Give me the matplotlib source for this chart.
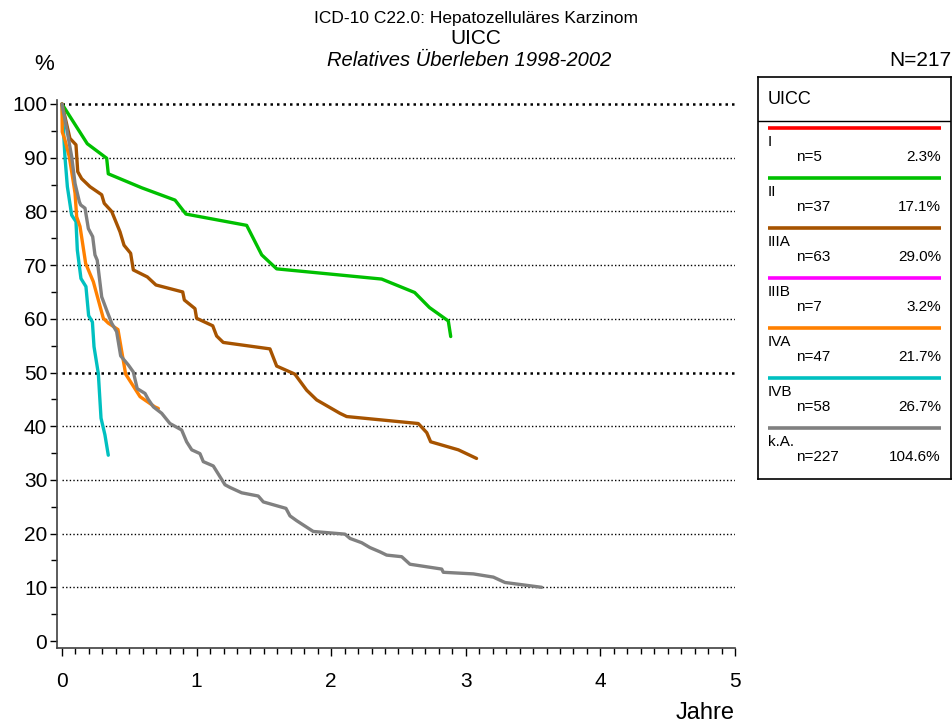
import matplotlib
matplotlib.use('Agg')
from matplotlib import pyplot as plt
from matplotlib.ticker import MultipleLocator

plt.rcParams['font.family'] = ['Liberation Sans', 'DejaVu Sans']

# curves (years, relative survival %)
ii_x = [0, 0.188, 0.332, 0.344, 0.592, 0.84, 0.921, 1.372, 1.484, 1.595, 2.375, 2.62, 2.73, 2.87, 2.888]
ii_y = [100, 92.6, 89.9, 87.0, 84.4, 82.1, 79.5, 77.4, 71.9, 69.3, 67.4, 64.9, 62.1, 59.6, 56.7]

iiia_x = [0, 0.059, 0.104, 0.117, 0.146, 0.208, 0.295, 0.314, 0.369, 0.431, 0.461, 0.51, 0.53,
          0.634, 0.698, 0.897, 0.909, 0.988, 1.0, 1.12, 1.149, 1.198, 1.545, 1.595, 1.73, 1.818,
          1.892, 2.065, 2.115, 2.647, 2.71, 2.739, 2.945, 3.08]
iiia_y = [100, 93.6, 92.4, 87.4, 86.1, 84.6, 83.1, 81.5, 80.0, 76.2, 73.7, 72.2, 69.1,
          67.8, 66.3, 65.0, 63.5, 61.9, 60.1, 58.7, 56.8, 55.6, 54.4, 51.2, 49.7, 46.7,
          44.9, 42.4, 41.8, 40.5, 38.8, 37.1, 35.6, 34.0]

iva_x = [0, 0.002, 0.022, 0.054, 0.084, 0.097, 0.109, 0.134, 0.176, 0.233, 0.307, 0.344, 0.416,
         0.473, 0.58, 0.69, 0.716]
iva_y = [100, 94.8, 93.3, 90.2, 85.5, 83.4, 79.0, 77.2, 70.3, 66.9, 60.1, 59.2, 58.0,
         49.7, 45.5, 43.6, 43.3]

ivb_x = [0, 0.022, 0.04, 0.072, 0.104, 0.114, 0.141, 0.178, 0.198, 0.226, 0.238, 0.27, 0.29,
         0.319, 0.344]
ivb_y = [100, 90.2, 84.6, 79.3, 78.1, 72.8, 67.5, 66.0, 60.6, 59.4, 54.8, 49.8, 41.5,
         38.4, 34.6]

ka_x = [0, 0.035, 0.072, 0.097, 0.129, 0.139, 0.171, 0.196, 0.228, 0.245, 0.262, 0.295, 0.332,
        0.369, 0.406, 0.436, 0.493, 0.53, 0.559, 0.617, 0.641, 0.679, 0.741, 0.802, 0.889,
        0.926, 0.964, 1.025, 1.05, 1.124, 1.211, 1.248, 1.335, 1.458, 1.496, 1.664, 1.694,
        1.744, 1.793, 1.867, 2.103, 2.14, 2.227, 2.288, 2.363, 2.412, 2.524, 2.585, 2.821,
        2.833, 3.056, 3.205, 3.291, 3.564]
ka_y = [100, 95.4, 90.2, 85.2, 81.8, 81.2, 80.6, 76.8, 75.3, 71.9, 70.9, 64.1, 61.6,
        59.2, 57.6, 53.1, 51.4, 50.1, 47.0, 46.1, 45.0, 43.6, 42.4, 40.5, 39.3,
        37.1, 35.6, 34.9, 33.4, 32.6, 29.1, 28.6, 27.6, 27.0, 25.9, 24.7, 23.3,
        22.4, 21.6, 20.4, 19.9, 19.1, 18.3, 17.4, 16.6, 16.0, 15.7, 14.3, 13.4,
        12.8, 12.5, 11.9, 10.9, 10.0]

groups = ['I', 'II', 'IIIA', 'IIIB', 'IVA', 'IVB', 'k.A.']
counts = [5, 37, 63, 7, 47, 58, 227]
shares = ['2.3%', '17.1%', '29.0%', '3.2%', '21.7%', '26.7%', '104.6%']
colors = ['#ff0000', '#00c000', '#a65300', '#ff00ff', '#ff8000', '#00c0c0', '#808080']

curves = [(ivb_x, ivb_y, colors[5]), (ii_x, ii_y, colors[1]), (iiia_x, iiia_y, colors[2]),
          (iva_x, iva_y, colors[4]), (ka_x, ka_y, colors[6])]

fig = plt.figure(figsize=(9.53, 7.28), dpi=100)
ax = fig.add_axes([57 / 953, 80 / 728, 678 / 953, 548.3 / 728])

for v in range(10, 101, 10):
    lw = 1.8 if v in (50, 100) else 1.0
    ax.plot([0, 5], [v, v], color='black', lw=lw, ls=(0, (1, 1.6)), zorder=1)

for x, y, c in curves:
    ax.plot(x, y, color=c, lw=2.4, solid_joinstyle='round', solid_capstyle='round', zorder=3)

ax.set_xlim(-0.037, 5.0)
ax.set_ylim(-1.3, 100.8)
ax.spines['top'].set_visible(False)
ax.spines['right'].set_visible(False)
ax.spines['left'].set_color('#404040')
ax.spines['bottom'].set_color('#404040')
ax.spines['left'].set_linewidth(1.2)
ax.spines['bottom'].set_linewidth(1.2)
ax.xaxis.set_major_locator(MultipleLocator(1))
ax.xaxis.set_minor_locator(MultipleLocator(0.1))
ax.yaxis.set_major_locator(MultipleLocator(10))
ax.yaxis.set_minor_locator(MultipleLocator(5))
ax.tick_params(axis='x', which='major', length=6, width=1, direction='out', labelsize=15, pad=11)
ax.tick_params(axis='x', which='minor', length=4, width=1, direction='out')
ax.tick_params(axis='y', which='major', length=5, width=1, direction='out', labelsize=15, pad=2)
ax.tick_params(axis='y', which='minor', length=4, width=1, direction='out')

fig.text(476 / 953, 1 - 18 / 728, 'ICD-10 C22.0: Hepatozelluläres Karzinom', ha='center', va='center', fontsize=12.5)
fig.text(476 / 953, 1 - 39 / 728, 'UICC', ha='center', va='center', fontsize=15)
fig.text(469 / 953, 1 - 61 / 728, 'Relatives Überleben 1998-2002', ha='center', va='center',
         fontsize=14.5, style='italic')
fig.text(44 / 953, 1 - 64 / 728, '%', ha='center', va='center', fontsize=16)
fig.text(951 / 953, 1 - 61 / 728, 'N=217', ha='right', va='center', fontsize=15)
fig.text(705 / 953, 1 - 713 / 728, 'Jahre', ha='center', va='center', fontsize=17)

# legend box
lg = fig.add_axes([758 / 953, 1 - 479 / 728, 193 / 953, 402 / 728])
lg.set_xlim(0, 193)
lg.set_ylim(402, 0)
lg.set_xticks([])
lg.set_yticks([])
for s in lg.spines.values():
    s.set_linewidth(1.2)
lg.axhline(44, color='black', lw=1.0)
lg.text(10, 22, 'UICC', va='center', ha='left', fontsize=13)
for i, (g, n, p, c) in enumerate(zip(groups, counts, shares, colors)):
    y0 = 51 + i * 50
    lg.plot([10, 183], [y0, y0], color=c, lw=2.6, solid_capstyle='butt')
    lg.text(10, y0 + 14, g, va='center', ha='left', fontsize=11)
    lg.text(38, y0 + 29, f'n={n}', va='center', ha='left', fontsize=11)
    lg.text(183, y0 + 29, p, va='center', ha='right', fontsize=11)

fig.savefig('out.png', dpi=100)
